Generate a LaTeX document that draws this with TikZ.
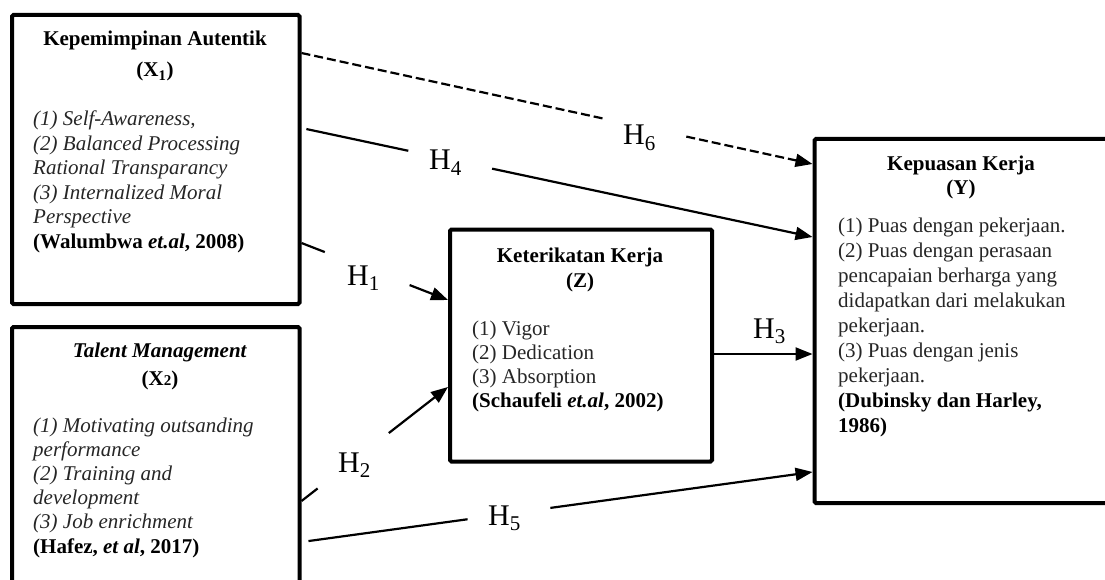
\documentclass[tikz,border=0pt]{standalone}
\usepackage{fontspec}
\setmainfont{Liberation Serif}
\usetikzlibrary{arrows.meta,calc}
\definecolor{itemgray}{gray}{0.15}
\tikzset{
  box/.style={draw=black, line width=4pt, rounded corners=1.5pt, inner sep=0pt, rectangle},
  conn/.style={line width=2.2pt, draw=black},
  arr/.style={conn, -{Triangle[length=17pt,width=13pt]}},
  dsh/.style={dash pattern=on 9pt off 4pt},
  hlab/.style={anchor=base west, inner sep=0pt, font=\fontsize{30}{30}\selectfont},
  ttl/.style={anchor=base, inner sep=0pt, font=\fontsize{21}{25}\selectfont\bfseries},
  itm/.style={anchor=base west, inner sep=0pt, text=itemgray},
}
\begin{document}
\begin{tikzpicture}[x=1pt,y=-1pt]
\useasboundingbox (0,0) rectangle (1105,580);
\clip (0,0) rectangle (1105,580);
\fill[white] (0,0) rectangle (1105,580);

% boxes
\node[box, minimum width=287.5pt, minimum height=289pt] (x1) at (155.75,159.5) {};
\node[box, minimum width=287.5pt, minimum height=293pt] (x2) at (155.75,473.5) {};
\node[box, minimum width=262pt, minimum height=232pt] (z) at (581,345.5) {};
\node[box, minimum width=315.5pt, minimum height=364pt] (y) at (972.25,321) {};

% X1 texts
\node[ttl] (x1t) at (155,46) {\parbox[t]{280pt}{\centering Kepemimpinan Autentik\\[6pt](X\textsubscript{1})}};
\node[itm] (x1i) at (33,126) {\parbox[t]{262pt}{\raggedright\fontsize{21}{24.5}\selectfont\itshape
(1) Self-Awareness,\\
(2) Balanced Processing\\
Rational Transparancy\\
(3) Internalized Moral\\
Perspective\\
{\upshape\bfseries\color{black}(Walumbwa \textit{et.al}, 2008)}}};

% X2 texts
\node[ttl] (x2t) at (160,357) {\parbox[t]{280pt}{\centering \textit{Talent Management}\\[3pt](X{\fontsize{15}{15}\selectfont 2})}};
\node[itm] (x2i) at (33,432) {\parbox[t]{262pt}{\raggedright\fontsize{21}{24.2}\selectfont\itshape
(1) Motivating outsanding\\
performance\\
(2) Training and\\
development\\
(3) Job enrichment\\
{\upshape\bfseries\color{black}(Hafez, \textit{et al}, 2017)}}};

% Z texts
\node[ttl] (zt) at (580,262) {\parbox[t]{250pt}{\centering Keterikatan Kerja\\(Z)}};
\node[itm] (zi) at (472,335) {\parbox[t]{235pt}{\raggedright\fontsize{21}{24.3}\selectfont
(1) Vigor\\
(2) Dedication\\
(3) Absorption\\
{\bfseries\color{black}(Schaufeli \textit{et.al}, 2002)}}};

% Y texts
\node[ttl] (yt) at (961,171) {\parbox[t]{260pt}{\centering Kepuasan Kerja\\[-1pt](Y)}};
\node[itm] (yi) at (838,233) {\parbox[t]{260pt}{\raggedright\fontsize{21}{24.9}\selectfont
(1) Puas dengan pekerjaan.\\
(2) Puas dengan perasaan\\
pencapaian berharga yang\\
didapatkan dari melakukan\\
pekerjaan.\\
(3) Puas dengan jenis\\
pekerjaan.\\
{\bfseries\color{black}(Dubinsky dan Harley,}\\
{\bfseries\color{black}1986)}}};

% connector end points
\coordinate (s6) at (x1.east |- 0,53);
\coordinate (e6) at (y.west |- 0,164);
\coordinate (s4) at (x1.east |- 0,128);
\coordinate (e4) at (y.west |- 0,237);
\coordinate (s1) at (x1.east |- 0,243);
\coordinate (e1) at (z.west |- 0,300);
\coordinate (s2) at (x2.east |- 0,501);
\coordinate (e2) at (z.west |- 0,387);
\coordinate (s3) at (z.east |- 0,354);
\coordinate (e3) at (y.west |- 0,354);
\coordinate (s5) at (x2.east |- 0,542);
\coordinate (e5) at (y.west |- 0,472);

% H6 (dashed)
\draw[conn, dsh] (s6) -- ($(s6)!0.590!(e6)$);
\draw[arr, dsh] ($(s6)!0.753!(e6)$) -- (e6);
% H4
\draw[conn, shorten <=5pt] (s4) -- ($(s4)!0.209!(e4)$);
\draw[arr] ($(s4)!0.373!(e4)$) -- (e4);
% H1
\draw[conn] (s1) -- ($(s1)!0.159!(e1)$);
\draw[arr] ($(s1)!0.738!(e1)$) -- (e1);
% H2
\draw[conn] (s2) -- ($(s2)!0.11!(e2)$);
\draw[arr] ($(s2)!0.596!(e2)$) -- (e2);
% H3
\draw[arr] (s3) -- (e3);
% H5
\draw[conn, shorten <=7pt] (s5) -- ($(s5)!0.325!(e5)$);
\draw[arr] ($(s5)!0.487!(e5)$) -- (e5);

% labels
\node[hlab] (h6) at (623,145) {H\textsubscript{6}};
\node[hlab] (h4) at (429,170) {H\textsubscript{4}};
\node[hlab] (h1) at (347,285) {H\textsubscript{1}};
\node[hlab] (h2) at (338,472) {H\textsubscript{2}};
\node[hlab] (h3) at (753,338) {H\textsubscript{3}};
\node[hlab] (h5) at (488,525) {H\textsubscript{5}};
\end{tikzpicture}
\end{document}
